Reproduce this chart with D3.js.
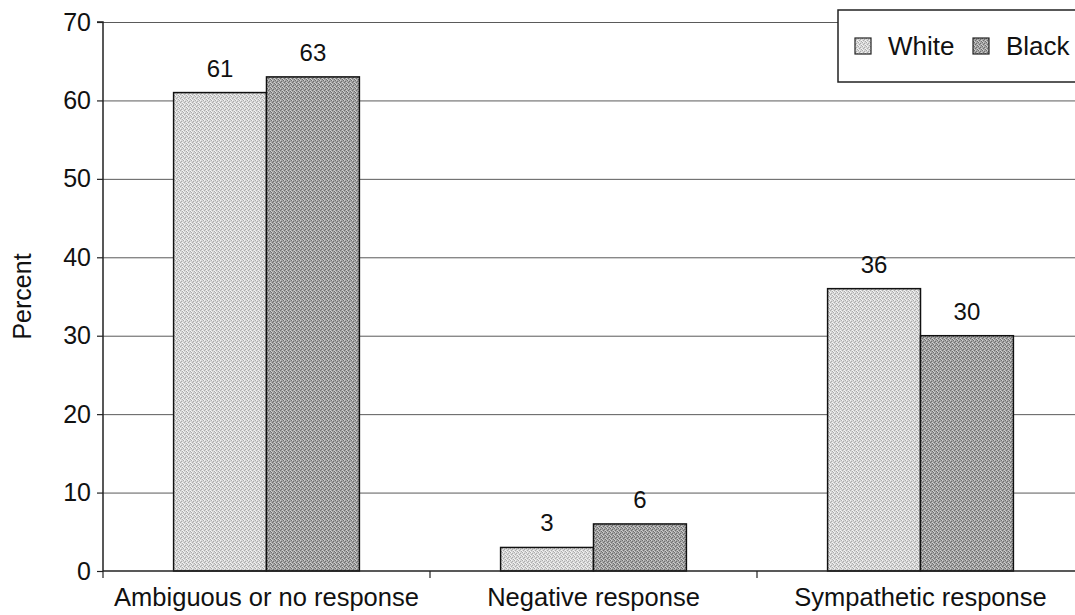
<!DOCTYPE html>
<html>
<head>
<meta charset="utf-8">
<script src="https://cdn.jsdelivr.net/npm/d3@7"></script>
<style>
  html, body { margin: 0; padding: 0; background: #fff; }
  svg { display: block; font-family: "Liberation Sans", Arial, sans-serif; }
</style>
</head>
<body>
<svg id="chart" width="1075" height="615"></svg>
<script>
// Responses to the scenario, by respondent race (percent)
const categories = ["Ambiguous or no response", "Negative response", "Sympathetic response"];
const seriesNames = ["White", "Black"];
const whiteValues = [61, 3, 36];
const blackValues = [63, 6, 30];
const yTicks = [0, 10, 20, 30, 40, 50, 60, 70];

const svg = d3.select("#chart");
const W = 1075, H = 615;
const margin = { left: 103, top: 22, bottom: 44 };
const plotRight = 1084;   // plot area continues past the visible edge
const y0 = H - margin.bottom;
const FONT = "Liberation Sans, Arial, sans-serif";

const x = d3.scaleBand().domain(categories).range([margin.left, plotRight]).paddingInner(0).paddingOuter(0);
const inner = d3.scaleBand().domain(seriesNames).range([0, x.bandwidth()]).paddingInner(0).paddingOuter(0.76);
const y = d3.scaleLinear().domain([0, 70]).range([y0, margin.top]);

// stippled fills
const defs = svg.append("defs");
function stipple(id, base, dark, light) {
  const p = defs.append("pattern").attr("id", id).attr("width", 4).attr("height", 4)
    .attr("patternUnits", "userSpaceOnUse");
  p.append("rect").attr("width", 4).attr("height", 4).attr("fill", base);
  [[0,0],[2,1],[1,2],[3,3]].forEach(([a,b]) => p.append("rect").attr("x", a).attr("y", b).attr("width", 1).attr("height", 1).attr("fill", dark));
  [[1,0],[3,2],[0,3]].forEach(([a,b]) => p.append("rect").attr("x", a).attr("y", b).attr("width", 1).attr("height", 1).attr("fill", light));
}
stipple("fillWhite", "#d8d8d8", "#ababab", "#f4f4f4");
stipple("fillBlack", "#a4a4a4", "#6e6e6e", "#cfcfcf");
const fills = { White: "url(#fillWhite)", Black: "url(#fillBlack)" };

// gridlines
svg.append("g").selectAll("line").data(yTicks.filter(d => d > 0)).join("line")
  .attr("x1", margin.left).attr("x2", W)
  .attr("y1", d => y(d) + 0.5).attr("y2", d => y(d) + 0.5)
  .attr("stroke", "#5a5a5a").attr("stroke-width", 1);

// bars
const rows = categories.map((c, i) => ({ cat: c, vals: [
  { s: "White", v: whiteValues[i] }, { s: "Black", v: blackValues[i] } ] }));

const groups = svg.append("g").selectAll("g").data(rows).join("g")
  .attr("transform", d => `translate(${x(d.cat)},0)`);

groups.selectAll("rect").data(d => d.vals).join("rect")
  .attr("x", d => inner(d.s))
  .attr("y", d => y(d.v))
  .attr("width", inner.bandwidth())
  .attr("height", d => y0 - y(d.v))
  .attr("fill", d => fills[d.s])
  .attr("stroke", "#111").attr("stroke-width", 1.5);

groups.selectAll("text").data(d => d.vals).join("text")
  .attr("x", d => inner(d.s) + inner.bandwidth() / 2)
  .attr("y", d => y(d.v) - 16)
  .attr("text-anchor", "middle")
  .attr("font-size", 24).attr("fill", "#111")
  .text(d => d.v);

// y axis
const yAxis = svg.append("g").attr("transform", `translate(${margin.left},0)`)
  .call(d3.axisLeft(y).tickValues(yTicks).tickSize(6).tickPadding(6));
yAxis.select(".domain").attr("stroke", "#222").attr("stroke-width", 1.5).attr("d", `M-6,${margin.top}H0V${y0}`);
yAxis.selectAll(".tick line").attr("stroke", "#222").attr("stroke-width", 1.2);
yAxis.selectAll(".tick text").attr("font-size", 25).attr("fill", "#111").attr("font-family", FONT);

// x axis
const xAxis = svg.append("g").attr("transform", `translate(0,${y0})`)
  .call(d3.axisBottom(x).tickSize(0).tickPadding(17));
xAxis.select(".domain").attr("stroke", "#222").attr("stroke-width", 1.5).attr("d", `M${margin.left},0H${W}`);
xAxis.selectAll(".tick text").attr("font-size", 25.5).attr("fill", "#111").attr("font-family", FONT);
// separators between categories
const seps = [margin.left, ...categories.slice(1).map(c => x(c))];
xAxis.append("g").selectAll("line").data(seps).join("line")
  .attr("x1", d => d).attr("x2", d => d).attr("y1", 0).attr("y2", 7)
  .attr("stroke", "#222").attr("stroke-width", 1.2);

// y title
svg.append("text")
  .attr("transform", `translate(31,${(margin.top + y0) / 2}) rotate(-90)`)
  .attr("text-anchor", "middle").attr("font-size", 25).attr("fill", "#111")
  .text("Percent");

// legend
const lg = svg.append("g").attr("transform", "translate(838,10)");
lg.append("rect").attr("x", 0).attr("y", 0).attr("width", 260).attr("height", 72)
  .attr("fill", "#fff").attr("stroke", "#222").attr("stroke-width", 1.5);
const legendX = [17, 135];
seriesNames.forEach((s, i) => {
  lg.append("rect").attr("x", legendX[i]).attr("y", 28).attr("width", 16).attr("height", 16)
    .attr("fill", fills[s]).attr("stroke", "#222").attr("stroke-width", 1.2);
  lg.append("text").attr("x", legendX[i] + 33).attr("y", 45)
    .attr("font-size", 26).attr("fill", "#111").text(s);
});
</script>
</body>
</html>
